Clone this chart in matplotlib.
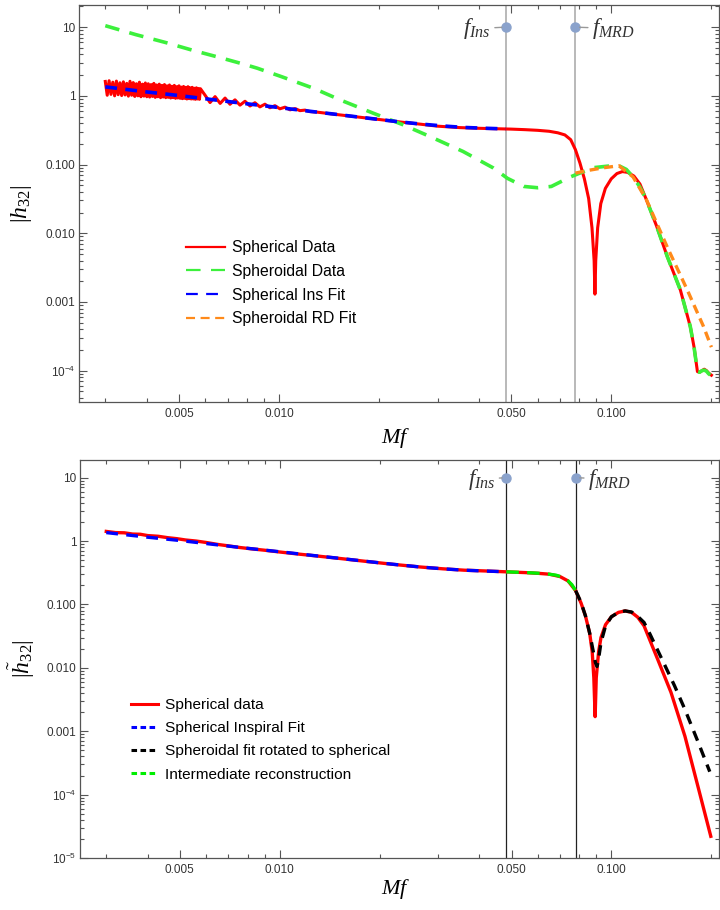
import numpy as np
import matplotlib
matplotlib.use('Agg')
import matplotlib.pyplot as plt
from matplotlib.ticker import FixedLocator, FixedFormatter, NullFormatter

plt.rcParams['font.family'] = ['Liberation Sans', 'DejaVu Sans']
plt.rcParams['mathtext.fontset'] = 'custom'
plt.rcParams['mathtext.rm'] = 'Liberation Serif'
plt.rcParams['mathtext.it'] = 'Liberation Serif:italic'
plt.rcParams['mathtext.sf'] = 'Liberation Sans'
plt.rcParams['lines.scale_dashes'] = False

# ---------------- data: top panel ----------------
f_ins = 0.0482
f_mrd = 0.0780

red_osc_f = [0.00300, 0.00304, 0.00308, 0.00312, 0.00316, 0.00320, 0.00324, 0.00328, 0.00332, 0.00336,
             0.00340, 0.00344, 0.00348, 0.00352, 0.00356, 0.00360, 0.00364, 0.00368, 0.00372, 0.00376,
             0.00380, 0.00384, 0.00388, 0.00392, 0.00396, 0.00400, 0.00404, 0.00408, 0.00412, 0.00416,
             0.00420, 0.00424, 0.00428, 0.00432, 0.00436, 0.00440, 0.00444, 0.00448, 0.00452, 0.00456,
             0.00460, 0.00464, 0.00468, 0.00472, 0.00476, 0.00480, 0.00484, 0.00488, 0.00492, 0.00496,
             0.00500, 0.00504, 0.00508, 0.00512, 0.00516, 0.00520, 0.00524, 0.00528, 0.00532, 0.00536,
             0.00540, 0.00544, 0.00548, 0.00552, 0.00556, 0.00560, 0.00564, 0.00568, 0.00572, 0.00576,
             0.00580]
red_osc_h = [1.62, 1.02, 1.66, 1.05, 1.58, 1.00, 1.64, 1.04, 1.55, 1.01,
             1.60, 1.03, 1.52, 0.99, 1.63, 1.02, 1.56, 0.98, 1.50, 1.00,
             1.58, 0.97, 1.48, 0.99, 1.54, 0.97, 1.50, 0.96, 1.46, 0.98,
             1.52, 0.95, 1.44, 0.97, 1.48, 0.94, 1.42, 0.96, 1.46, 0.94,
             1.40, 0.95, 1.44, 0.93, 1.38, 0.94, 1.42, 0.92, 1.36, 0.93,
             1.40, 0.92, 1.34, 0.91, 1.37, 0.92, 1.33, 0.90, 1.36, 0.91,
             1.31, 0.90, 1.33, 0.90, 1.29, 0.89, 1.31, 0.90, 1.28, 0.89,
             1.27]
red_wave_f = [0.00598, 0.00620, 0.00642, 0.00665, 0.00688, 0.00712, 0.00737, 0.00763, 0.00790,
              0.00818, 0.00846, 0.00876, 0.00907, 0.00939, 0.00972, 0.01006, 0.01042, 0.01079,
              0.01117, 0.01156, 0.01197, 0.01239]
red_wave_h = [1.033, 0.799, 0.974, 0.776, 0.928, 0.754, 0.875, 0.732, 0.834, 0.712, 0.794,
              0.691, 0.756, 0.671, 0.719, 0.648, 0.684, 0.626, 0.652, 0.609, 0.620, 0.590]
red_smooth_f = [0.0130, 0.0150, 0.0175, 0.0200, 0.0230, 0.0265, 0.0300, 0.0350, 0.0400, 0.0450,
                0.0500, 0.0550, 0.0600, 0.0650, 0.0690, 0.0725, 0.0755, 0.0780, 0.0805, 0.0830,
                0.0855, 0.0875, 0.0888, 0.0893, 0.0898, 0.0910, 0.0930, 0.0960, 0.1000, 0.1040,
                0.1080, 0.1120, 0.1170, 0.1220, 0.1275, 0.1371, 0.1474, 0.1614, 0.1729, 0.1775,
                0.1817, 0.1845, 0.1875, 0.1905, 0.1935, 0.1965, 0.2002]
red_smooth_h = [0.580, 0.533, 0.489, 0.453, 0.418, 0.388, 0.362, 0.345, 0.337, 0.332,
                0.328, 0.322, 0.315, 0.305, 0.290, 0.270, 0.230, 0.165, 0.105, 0.062,
                0.032, 0.012, 0.004, 0.0013, 0.004, 0.012, 0.027, 0.045, 0.062, 0.074,
                0.079, 0.077, 0.068, 0.052, 0.031, 0.0125, 0.0046, 0.0015, 4.4e-4, 2.2e-4,
                9.7e-5, 9.5e-5, 1.0e-4, 1.05e-4, 1.0e-4, 9.2e-5, 8.6e-5]

green_f = [0.00300, 0.00370, 0.00460, 0.00550, 0.00651, 0.00777, 0.00859, 0.01015, 0.0127, 0.0153,
           0.0192, 0.0236, 0.0285, 0.0358, 0.0442, 0.0487, 0.0546, 0.0600, 0.0660, 0.0753,
           0.0882, 0.0980, 0.1055, 0.1110, 0.1163, 0.1220, 0.1275, 0.1371, 0.1474, 0.1614,
           0.1729, 0.1775, 0.1817, 0.1845, 0.1875, 0.1905, 0.1935, 0.1965, 0.2002]
green_h = [10.5, 7.8, 5.9, 4.6, 3.7, 2.92, 2.53, 1.91, 1.29, 0.87,
           0.56, 0.38, 0.255, 0.155, 0.089, 0.063, 0.048, 0.046, 0.048, 0.066,
           0.090, 0.095, 0.096, 0.085, 0.066, 0.047, 0.031, 0.0125, 0.0046, 0.0015,
           4.4e-4, 2.2e-4, 9.7e-5, 9.5e-5, 1.0e-4, 1.02e-4, 9.8e-5, 9.0e-5, 8.4e-5]

blue_f = [0.0030, 0.0040, 0.0050, 0.0065, 0.0078, 0.0090, 0.0105, 0.0125, 0.0150, 0.0180,
          0.0220, 0.0265, 0.0310, 0.0360, 0.0420, 0.0482]
blue_h = [1.35, 1.14, 1.01, 0.865, 0.778, 0.717, 0.656, 0.593, 0.535, 0.481,
          0.429, 0.390, 0.365, 0.347, 0.337, 0.330]

orange_f = [0.0780, 0.0850, 0.0950, 0.1055, 0.1163, 0.1275, 0.1474, 0.1693, 0.1895, 0.2002]
orange_h = [0.075, 0.082, 0.090, 0.096, 0.066, 0.031, 0.0063, 0.0015, 4.4e-4, 2.2e-4]

# ---------------- data: bottom panel ----------------
redb_f = [0.0030, 0.0032, 0.0034, 0.0036, 0.0038, 0.0040, 0.0043, 0.0046, 0.0049, 0.0052,
          0.0056, 0.0060, 0.0065, 0.0070, 0.0076, 0.0082, 0.0090, 0.0100, 0.0115, 0.0130,
          0.0150, 0.0180, 0.0220, 0.0265, 0.0310, 0.0360, 0.0420, 0.0482, 0.0550, 0.0600,
          0.0650, 0.0700, 0.0740, 0.0780, 0.0810, 0.0835, 0.0860, 0.0875, 0.0885, 0.0893,
          0.0900, 0.0915, 0.0930, 0.0960, 0.1000, 0.1050, 0.1100, 0.1150, 0.1200, 0.1254,
          0.1307, 0.1378, 0.1512, 0.1666, 0.1822, 0.1993]
redb_h = [1.42, 1.36, 1.35, 1.29, 1.28, 1.22, 1.19, 1.13, 1.09, 1.04,
          1.00, 0.95, 0.885, 0.84, 0.79, 0.755, 0.717, 0.672, 0.62, 0.58,
          0.535, 0.481, 0.429, 0.39, 0.365, 0.347, 0.337, 0.327, 0.318, 0.31,
          0.30, 0.275, 0.235, 0.165, 0.105, 0.066, 0.035, 0.018, 0.007, 0.0017,
          0.007, 0.018, 0.030, 0.048, 0.064, 0.075, 0.079, 0.075, 0.063, 0.046,
          0.027, 0.0137, 0.0041, 8.3e-4, 1.36e-4, 2.2e-5]

blueb_f = [0.0030, 0.0040, 0.0050, 0.0065, 0.0078, 0.0090, 0.0105, 0.0125, 0.0150, 0.0180,
           0.0220, 0.0265, 0.0310, 0.0360, 0.0420, 0.0482]
blueb_h = [1.36, 1.15, 1.02, 0.87, 0.78, 0.72, 0.66, 0.595, 0.537, 0.482,
           0.43, 0.39, 0.365, 0.347, 0.336, 0.327]

greenb_f = [0.0482, 0.052, 0.056, 0.060, 0.064, 0.068, 0.071, 0.074, 0.076, 0.078]
greenb_h = [0.327, 0.322, 0.317, 0.311, 0.303, 0.29, 0.27, 0.235, 0.205, 0.165]

blackb_f = [0.0780, 0.0810, 0.0835, 0.0860, 0.0880, 0.0895, 0.0905, 0.0915, 0.0930, 0.0960,
            0.1000, 0.1050, 0.1100, 0.1150, 0.1200, 0.1254, 0.1307, 0.1378, 0.1452, 0.1550,
            0.1666, 0.1822, 0.1979]
blackb_h = [0.165, 0.108, 0.066, 0.035, 0.019, 0.012, 0.0105, 0.014, 0.025, 0.046,
            0.064, 0.075, 0.079, 0.076, 0.065, 0.052, 0.034, 0.019, 0.0107, 0.0052,
            0.0022, 6.9e-4, 2.3e-4]

# ---------------- ticks ----------------
x_major = [0.005, 0.01, 0.05, 0.1]
x_major_labels = ['0.005', '0.010', '0.050', '0.100']
x_minor = [0.003, 0.004, 0.006, 0.007, 0.008, 0.009, 0.02, 0.03, 0.04,
           0.06, 0.07, 0.08, 0.09, 0.2]
y_major_top = [1e-4, 1e-3, 1e-2, 1e-1, 1, 10]
y_labels_top = [r'$\mathsf{10^{-4}}$', '0.001', '0.010', '0.100', '1', '10']
y_major_bot = [1e-5, 1e-4, 1e-3, 1e-2, 1e-1, 1, 10]
y_labels_bot = [r'$\mathsf{10^{-5}}$', r'$\mathsf{10^{-4}}$', '0.001', '0.010', '0.100', '1', '10']

fig = plt.figure(figsize=(7.2, 9.1), dpi=100)
ax1 = fig.add_axes([79/720, 1-402/910, 640/720, 397/910])
ax2 = fig.add_axes([80/720, 1-858/910, 639/720, 398/910])

marker_col = '#8aa2cc'
spine_col = '#555555'


def style(ax, ylim, ymaj, ylab):
    ax.set_xscale('log')
    ax.set_yscale('log')
    ax.set_xlim(0.0025, 0.211)
    ax.set_ylim(*ylim)
    ax.xaxis.set_major_locator(FixedLocator(x_major))
    ax.xaxis.set_major_formatter(FixedFormatter(x_major_labels))
    ax.xaxis.set_minor_locator(FixedLocator(x_minor))
    ax.xaxis.set_minor_formatter(NullFormatter())
    ax.yaxis.set_major_locator(FixedLocator(ymaj))
    ax.yaxis.set_major_formatter(FixedFormatter(ylab))
    ymin = []
    for d in range(-6, 2):
        for m in range(2, 10):
            ymin.append(m * 10.0 ** d)
    ax.yaxis.set_minor_locator(FixedLocator(ymin))
    ax.yaxis.set_minor_formatter(NullFormatter())
    ax.tick_params(which='both', direction='in', top=True, right=True,
                   labeltop=False, labelright=False, color=spine_col, width=0.8)
    ax.tick_params(which='major', length=6, labelsize=8.5, labelcolor='#333333')
    ax.tick_params(which='minor', length=3)
    ax.tick_params(axis='y', which='major', pad=2.5)
    ax.tick_params(axis='x', which='major', pad=4)
    for s in ax.spines.values():
        s.set_color(spine_col)
        s.set_linewidth(0.9)


def mark(ax, f, label, side, vcol, vlw, off):
    ax.axvline(f, color=vcol, lw=vlw, zorder=1)
    ax.plot([f], [10], 'o', color=marker_col, ms=6.5, zorder=8, clip_on=False)
    dx = -off if side == 'left' else off
    ax.annotate(label, xy=(f, 10), xytext=(dx, -1), textcoords='offset points',
                ha='right' if side == 'left' else 'left', va='center', fontsize=16.5,
                color='#333333', zorder=8,
                arrowprops=dict(arrowstyle='-', color='#999999', lw=1.0,
                                shrinkA=1, shrinkB=3))


# ---------------- top panel ----------------
style(ax1, (3.5e-5, 21), y_major_top, y_labels_top)
mark(ax1, f_ins, r'$f_{Ins}$', 'left', '#b3b3b3', 1.3, 11)
mark(ax1, f_mrd, r'$f_{MRD}$', 'right', '#b3b3b3', 1.3, 12)

red_top_f = np.concatenate([red_osc_f, red_wave_f, red_smooth_f])
red_top_h = np.concatenate([red_osc_h, red_wave_h, red_smooth_h])
ax1.plot(red_top_f, red_top_h, color='#ff0000', lw=2.2, zorder=3, label='Spherical Data')
ax1.plot(green_f, green_h, color='#3cf03c', lw=2.6, dashes=(10.5, 7.5), zorder=4,
         label='Spheroidal Data')
ax1.plot(blue_f, blue_h, color='#0000ff', lw=2.6, dashes=(8.5, 6), zorder=5,
         label='Spherical Ins Fit')
ax1.plot(orange_f, orange_h, color='#ff8a1a', lw=2.4, dashes=(6.5, 4), zorder=6,
         label='Spheroidal RD Fit')
leg1 = ax1.legend(loc='upper left', bbox_to_anchor=((186-79)/640, (402-240)/397),
                  frameon=False, fontsize=11.3, handlelength=2.5, handletextpad=0.45,
                  labelspacing=0.56, borderaxespad=0, borderpad=0)
for h in leg1.get_lines():
    h.set_linewidth(1.6)

ax1.set_xlabel(r'$Mf$', fontsize=16)
ax1.xaxis.set_label_coords((396-79)/640, (402-438)/397)
ax1.xaxis.label.set_va('center')
ax1.set_ylabel(r'$|h_{32}|$', fontsize=17)
ax1.yaxis.set_label_coords((22-79)/640, 0.5)
ax1.yaxis.label.set_va('center')

# ---------------- bottom panel ----------------
style(ax2, (1e-5, 19), y_major_bot, y_labels_bot)
mark(ax2, f_ins, r'$f_{Ins}$', 'left', '#222222', 0.9, 8)
mark(ax2, f_mrd, r'$f_{MRD}$', 'right', '#222222', 0.9, 9)

ax2.plot(redb_f, redb_h, color='#ff0000', lw=2.4, zorder=3, label='Spherical data')
ax2.plot(blueb_f, blueb_h, color='#0000ff', lw=2.4, dashes=(8.5, 6), zorder=4,
         label='Spherical Inspiral Fit')
ax2.plot(blackb_f, blackb_h, color='#000000', lw=2.4, dashes=(7.5, 5.5), zorder=5,
         label='Spheroidal fit rotated to spherical')
ax2.plot(greenb_f, greenb_h, color='#00ee00', lw=2.4, dashes=(9, 6), zorder=6,
         label='Intermediate reconstruction')
leg2 = ax2.legend(loc='upper left', bbox_to_anchor=((131-80)/639, (858-698)/398),
                  frameon=False, fontsize=11.1, handlelength=1.75, handletextpad=0.45,
                  labelspacing=0.6, borderaxespad=0, borderpad=0)
for h in leg2.get_lines():
    h.set_linewidth(2.2)
    if h.get_linestyle() != '-':
        h.set_dashes((4, 2.5))

ax2.set_xlabel(r'$Mf$', fontsize=16)
ax2.xaxis.set_label_coords((396-80)/639, (858-889)/398)
ax2.xaxis.label.set_va('center')
ax2.set_ylabel(r'$|\tilde{h}_{32}|$', fontsize=17)
ax2.yaxis.set_label_coords((22-80)/639, 0.5)
ax2.yaxis.label.set_va('center')

fig.savefig('out.png', dpi=100)
